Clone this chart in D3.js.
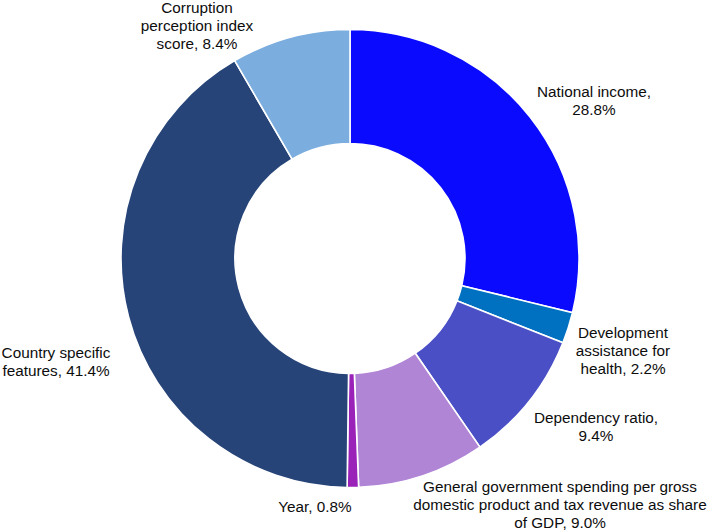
<!DOCTYPE html>
<html>
<head>
<meta charset="utf-8">
<script src="https://cdn.jsdelivr.net/npm/d3@7"></script>
<style>
  html, body { margin: 0; padding: 0; background: #ffffff; }
  svg { display: block; }
  text { font-family: "Liberation Sans", Arial, sans-serif; font-size: 15.3px; fill: #0d0d0d; }
</style>
</head>
<body>
<script>
// ---- data ----
const categories = [
  "National income",
  "Development assistance for health",
  "Dependency ratio",
  "General government spending per gross domestic product and tax revenue as share of GDP",
  "Year",
  "Country specific features",
  "Corruption perception index score"
];
const values = [28.8, 2.2, 9.4, 9.0, 0.8, 41.4, 8.4];
const labelLines = [
  ["National income,", "{v}"],
  ["Development", "assistance for", "health, {v}"],
  ["Dependency ratio,", "{v}"],
  ["General government spending per gross", "domestic product and tax revenue as share", "of GDP, {v}"],
  ["Year, {v}"],
  ["Country specific", "features, {v}"],
  ["Corruption", "perception index", "score, {v}"]
];

// ---- style / layout ----
const colors = ["#0a0aff", "#0070c0", "#4a4fc6", "#b085d5", "#9a22b8", "#264478", "#7badde"];
const labelPos = [[594, 97], [623, 338], [596, 423], [560, 492], [315, 512], [56, 358], [197, 13]];
const W = 708, H = 531;
const cx = 350, cy = 258.5, rOuter = 229, rInner = 115, lineH = 18;

const svg = d3.select("body").append("svg").attr("width", W).attr("height", H);

const pie = d3.pie().sort(null).value(d => d);
const arc = d3.arc().innerRadius(rInner).outerRadius(rOuter);
const color = d3.scaleOrdinal().domain(categories).range(colors);

const g = svg.append("g").attr("transform", `translate(${cx},${cy})`);
g.selectAll("path")
  .data(pie(values))
  .join("path")
  .attr("d", arc)
  .attr("fill", (d, i) => color(categories[i]))
  .attr("stroke", "#ffffff")
  .attr("stroke-width", 1.6)
  .attr("stroke-linejoin", "miter");

const fmt = v => v.toFixed(1) + "%";
const labels = svg.append("g");
labelLines.forEach((lines, i) => {
  const t = labels.append("text")
    .attr("text-anchor", "middle")
    .attr("x", labelPos[i][0])
    .attr("y", labelPos[i][1]);
  lines.forEach((ln, j) => {
    t.append("tspan")
      .attr("x", labelPos[i][0])
      .attr("dy", j === 0 ? 0 : lineH)
      .text(ln.replace("{v}", fmt(values[i])));
  });
});
</script>
</body>
</html>
